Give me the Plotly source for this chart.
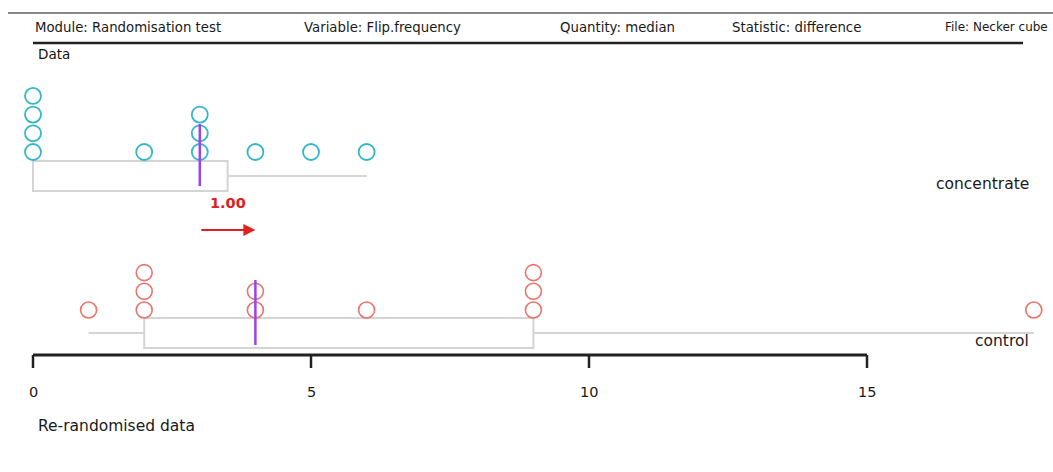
import plotly.graph_objects as go

# ---- data ----
concentrate = [0, 0, 0, 0, 2, 3, 3, 3, 4, 5, 6]
control = [1, 2, 2, 2, 4, 4, 6, 9, 9, 9, 18]
conc_box = {"q1": 0, "median": 3, "q3": 3.5, "lo": 0, "hi": 6}
ctrl_box = {"q1": 2, "median": 4, "q3": 9, "lo": 1, "hi": 18}
diff_value = 1.00
tick_vals = [0, 5, 10, 15]
tick_text = ["0", "5", "10", "15"]
header = ["Module: Randomisation test", "Variable: Flip.frequency",
          "Quantity: median", "Statistic: difference", "File: Necker cube"]
group_names = ["concentrate", "control"]

W, H = 1053, 472
X0PX, PXU = 33, 55.6  # pixel of x=0, pixels per unit
xmin = -X0PX / PXU
xmax = (W - X0PX) / PXU

FONT = "'DejaVu Sans', Verdana, sans-serif"
TEAL = "#35b6c6"
SALMON = "#e8756c"
PURPLE = "#a040e8"
BOXC = "#d4d4d4"
TXT = "#1a1a1a"

fig = go.Figure()


def stack(vals, base, step):
    counts = {}
    ys = []
    for v in vals:
        k = counts.get(v, 0)
        ys.append(base - k * step)
        counts[v] = k + 1
    return ys


shapes = []


def add_box(b, top, bot, whisk_y, med_top, med_bot):
    shapes.append(dict(type="rect", x0=b["q1"], x1=b["q3"], y0=top, y1=bot,
                       line=dict(color=BOXC, width=2), layer="below"))
    if b["lo"] < b["q1"]:
        shapes.append(dict(type="line", x0=b["lo"], x1=b["q1"], y0=whisk_y, y1=whisk_y,
                           line=dict(color=BOXC, width=2), layer="below"))
    if b["hi"] > b["q3"]:
        shapes.append(dict(type="line", x0=b["q3"], x1=b["hi"], y0=whisk_y, y1=whisk_y,
                           line=dict(color=BOXC, width=2), layer="below"))
    shapes.append(dict(type="line", x0=b["median"], x1=b["median"], y0=med_top, y1=med_bot,
                       line=dict(color=PURPLE, width=2.5), layer="above"))


add_box(conc_box, 161, 191, 176, 124, 186)
add_box(ctrl_box, 318, 348, 333, 280, 345)

fig.add_trace(go.Scatter(x=concentrate, y=stack(concentrate, 152, 18.7), mode="markers",
                         marker=dict(symbol="circle-open", size=16, color=TEAL,
                                     line=dict(width=1.8, color=TEAL)),
                         hoverinfo="x", showlegend=False))
fig.add_trace(go.Scatter(x=control, y=stack(control, 310, 18.7), mode="markers",
                         marker=dict(symbol="circle-open", size=16, color=SALMON,
                                     line=dict(width=1.6, color=SALMON)),
                         hoverinfo="x", showlegend=False))

# axis line and ticks
shapes.append(dict(type="line", x0=tick_vals[0], x1=tick_vals[-1], y0=355, y1=355,
                   line=dict(color="#222", width=3)))
for t in tick_vals:
    shapes.append(dict(type="line", x0=t, x1=t, y0=355, y1=368,
                       line=dict(color="#222", width=2.5)))

# header lines
shapes.append(dict(type="line", xref="paper", x0=8 / W, x1=1, y0=13, y1=13,
                   line=dict(color="#888", width=2)))
shapes.append(dict(type="line", xref="paper", x0=33 / W, x1=1023 / W, y0=43, y1=43,
                   line=dict(color="#222", width=2.5)))

annotations = []
for t, s in zip(tick_vals, tick_text):
    annotations.append(dict(x=t, y=392, text=s, showarrow=False,
                            font=dict(size=14.5, color=TXT, family=FONT)))

header_px = [33, 302, 558, 730]
for p, s in zip(header_px, header[:4]):
    annotations.append(dict(x=p / W, xref="paper", y=27, text=s, showarrow=False, xanchor="left",
                            font=dict(size=13.3, color=TXT, family=FONT)))
annotations.append(dict(x=1050 / W, xref="paper", y=27, text=header[4], showarrow=False,
                        xanchor="right", font=dict(size=12, color=TXT, family=FONT)))

annotations.append(dict(x=36 / W, xref="paper", y=54, text="Data", showarrow=False, xanchor="left",
                        font=dict(size=13.5, color="#111", family=FONT)))
annotations.append(dict(x=36 / W, xref="paper", y=426, text="Re-randomised data", showarrow=False,
                        xanchor="left", font=dict(size=15.5, color=TXT, family=FONT)))
annotations.append(dict(x=1031 / W, xref="paper", y=184, text=group_names[0], showarrow=False,
                        xanchor="right", font=dict(size=15.5, color=TXT, family=FONT)))
annotations.append(dict(x=1031 / W, xref="paper", y=341, text=group_names[1], showarrow=False,
                        xanchor="right", font=dict(size=15.5, color=TXT, family=FONT)))

# difference arrow
annotations.append(dict(x=(conc_box["median"] + ctrl_box["median"]) / 2, y=203,
                        text=f"<b>{diff_value:.2f}</b>", showarrow=False,
                        font=dict(size=14.5, color="#e02020", family=FONT)))
annotations.append(dict(x=ctrl_box["median"], y=230, ax=conc_box["median"], ay=230,
                        xref="x", yref="y", axref="x", ayref="y", text="", showarrow=True,
                        arrowhead=2, arrowsize=1.2, arrowwidth=2, arrowcolor="#e02020"))

fig.update_layout(
    width=W, height=H, margin=dict(l=0, r=0, t=0, b=0),
    paper_bgcolor="white", plot_bgcolor="white",
    xaxis=dict(range=[xmin, xmax], visible=False, fixedrange=True),
    yaxis=dict(range=[H, 0], visible=False, fixedrange=True),
    shapes=shapes, annotations=annotations, showlegend=False,
)

fig.write_html("out.html")
